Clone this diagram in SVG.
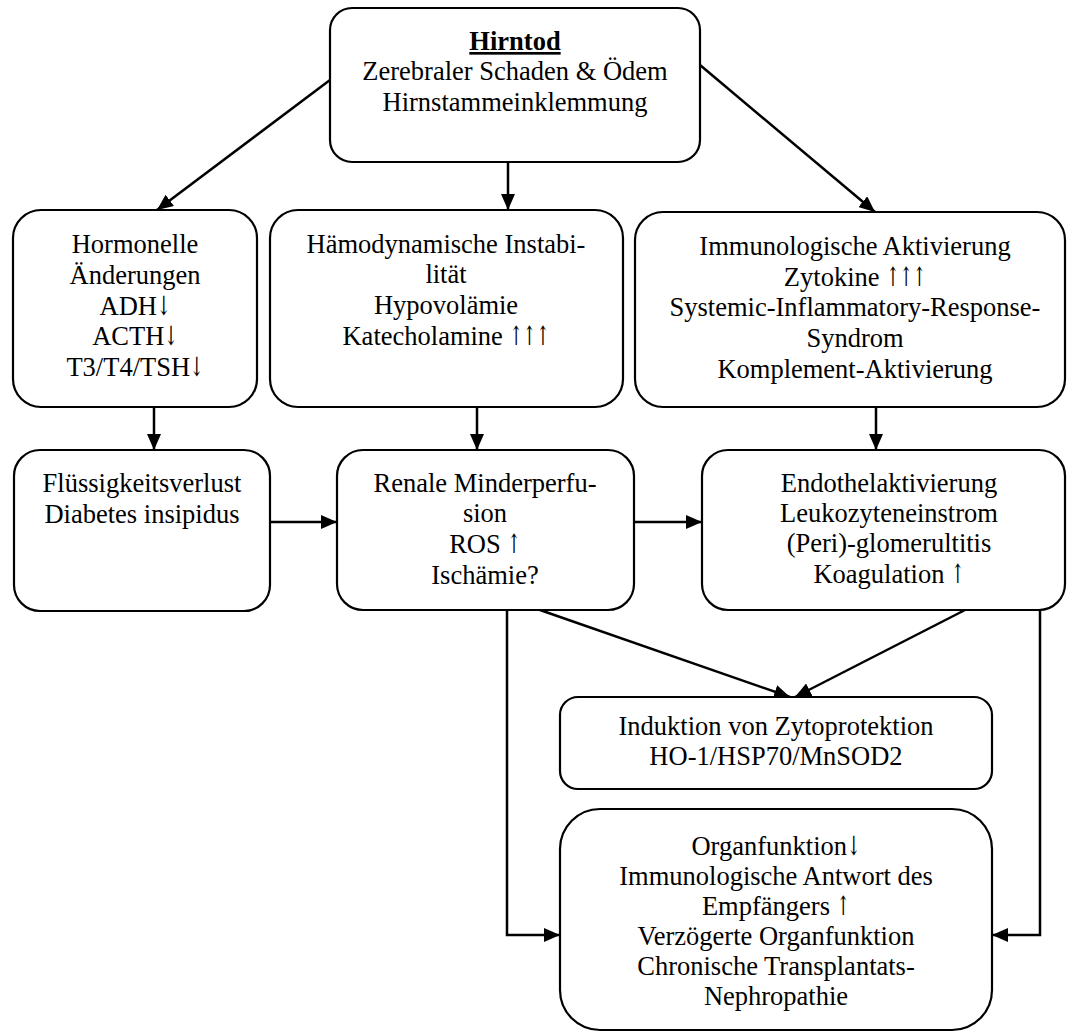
<svg xmlns="http://www.w3.org/2000/svg" width="1067" height="1034" viewBox="0 0 1067 1034">
<style>
  .box { fill: #ffffff; stroke: #000000; stroke-width: 2.2; }
  .t { font-family: "Liberation Serif", "Times New Roman", serif; font-size: 26.5px; fill: #000000; text-anchor: middle; }
  .b { font-weight: bold; text-decoration: underline; }
  .ar { font-family: "DejaVu Serif", serif; font-weight: normal; }
  .c { fill: none; stroke: #000000; stroke-width: 2.5; }
</style>
<defs>
  <marker id="ah" markerUnits="userSpaceOnUse" markerWidth="16" markerHeight="14" viewBox="0 0 16 14" refX="16" refY="7" orient="auto">
    <path d="M0,0 L16,7 L0,14 Z" fill="#000000"/>
  </marker>
</defs>

<g id="connectors">
  <line class="c" x1="330" y1="80" x2="157" y2="210" marker-end="url(#ah)"/>
  <line class="c" x1="508" y1="162" x2="508" y2="210" marker-end="url(#ah)"/>
  <line class="c" x1="700" y1="65" x2="875" y2="212" marker-end="url(#ah)"/>
  <line class="c" x1="154" y1="407" x2="154" y2="450" marker-end="url(#ah)"/>
  <line class="c" x1="477" y1="407" x2="477" y2="450" marker-end="url(#ah)"/>
  <line class="c" x1="876" y1="407" x2="876" y2="450" marker-end="url(#ah)"/>
  <line class="c" x1="270" y1="522" x2="337" y2="522" marker-end="url(#ah)"/>
  <line class="c" x1="634" y1="522" x2="702" y2="522" marker-end="url(#ah)"/>
  <line class="c" x1="540" y1="610" x2="790" y2="697" marker-end="url(#ah)"/>
  <line class="c" x1="965" y1="610" x2="795" y2="697" marker-end="url(#ah)"/>
  <polyline class="c" points="507,610 507,935 560,935" marker-end="url(#ah)"/>
  <polyline class="c" points="1040,610 1040,935 992,935" marker-end="url(#ah)"/>
</g>

<g id="hirntod">
  <rect class="box" x="330" y="8" width="370" height="154" rx="22"/>
  <text class="t b" x="515" y="50">Hirntod</text>
  <text class="t" x="515" y="80">Zerebraler Schaden &amp; Ödem</text>
  <text class="t" x="515" y="111">Hirnstammeinklemmung</text>
</g>

<g id="hormonelle">
  <rect class="box" x="13" y="210" width="244" height="197" rx="28"/>
  <text class="t" x="135" y="253">Hormonelle</text>
  <text class="t" x="135" y="284">Änderungen</text>
  <text class="t" x="135" y="315">ADH<tspan class="ar" textLength="13.5" lengthAdjust="spacingAndGlyphs">↓</tspan></text>
  <text class="t" x="135" y="345">ACTH<tspan class="ar" textLength="13.5" lengthAdjust="spacingAndGlyphs">↓</tspan></text>
  <text class="t" x="135" y="376">T3/T4/TSH<tspan class="ar" textLength="13.5" lengthAdjust="spacingAndGlyphs">↓</tspan></text>
</g>

<g id="haemodynamik">
  <rect class="box" x="270" y="210" width="353" height="197" rx="28"/>
  <text class="t" x="446" y="253">Hämodynamische Instabi-</text>
  <text class="t" x="446" y="283">lität</text>
  <text class="t" x="446" y="314">Hypovolämie</text>
  <text class="t" x="446" y="345">Katecholamine <tspan class="ar" textLength="40" lengthAdjust="spacingAndGlyphs">↑↑↑</tspan></text>
</g>

<g id="immunologie">
  <rect class="box" x="635" y="212" width="430" height="195" rx="28"/>
  <text class="t" x="855" y="255">Immunologische Aktivierung</text>
  <text class="t" x="855" y="286">Zytokine <tspan class="ar" textLength="40" lengthAdjust="spacingAndGlyphs">↑↑↑</tspan></text>
  <text class="t" x="855" y="316">Systemic-Inflammatory-Response-</text>
  <text class="t" x="855" y="347">Syndrom</text>
  <text class="t" x="855" y="378">Komplement-Aktivierung</text>
</g>

<g id="fluessigkeit">
  <rect class="box" x="14" y="450" width="256" height="161" rx="26"/>
  <text class="t" x="142" y="492">Flüssigkeitsverlust</text>
  <text class="t" x="142" y="523">Diabetes insipidus</text>
</g>

<g id="renal">
  <rect class="box" x="337" y="450" width="297" height="160" rx="26"/>
  <text class="t" x="485" y="492">Renale Minderperfu-</text>
  <text class="t" x="485" y="522">sion</text>
  <text class="t" x="485" y="553">ROS <tspan class="ar" textLength="13.5" lengthAdjust="spacingAndGlyphs">↑</tspan></text>
  <text class="t" x="485" y="584">Ischämie?</text>
</g>

<g id="endothel">
  <rect class="box" x="702" y="450" width="363" height="160" rx="26"/>
  <text class="t" x="889" y="492">Endothelaktivierung</text>
  <text class="t" x="889" y="522">Leukozyteneinstrom</text>
  <text class="t" x="889" y="552">(Peri)-glomerultitis</text>
  <text class="t" x="889" y="583">Koagulation <tspan class="ar" textLength="13.5" lengthAdjust="spacingAndGlyphs">↑</tspan></text>
</g>

<g id="zytoprotektion">
  <rect class="box" x="560" y="697" width="432" height="92" rx="18"/>
  <text class="t" x="776" y="735">Induktion von Zytoprotektion</text>
  <text class="t" x="776" y="765">HO-1/HSP70/MnSOD2</text>
</g>

<g id="organfunktion">
  <rect class="box" x="560" y="809" width="432" height="221" rx="40"/>
  <text class="t" x="776" y="855">Organfunktion<tspan class="ar" textLength="13.5" lengthAdjust="spacingAndGlyphs">↓</tspan></text>
  <text class="t" x="776" y="885">Immunologische Antwort des</text>
  <text class="t" x="776" y="915">Empfängers <tspan class="ar" textLength="13.5" lengthAdjust="spacingAndGlyphs">↑</tspan></text>
  <text class="t" x="776" y="945">Verzögerte Organfunktion</text>
  <text class="t" x="776" y="975">Chronische Transplantats-</text>
  <text class="t" x="776" y="1005">Nephropathie</text>
</g>
</svg>
